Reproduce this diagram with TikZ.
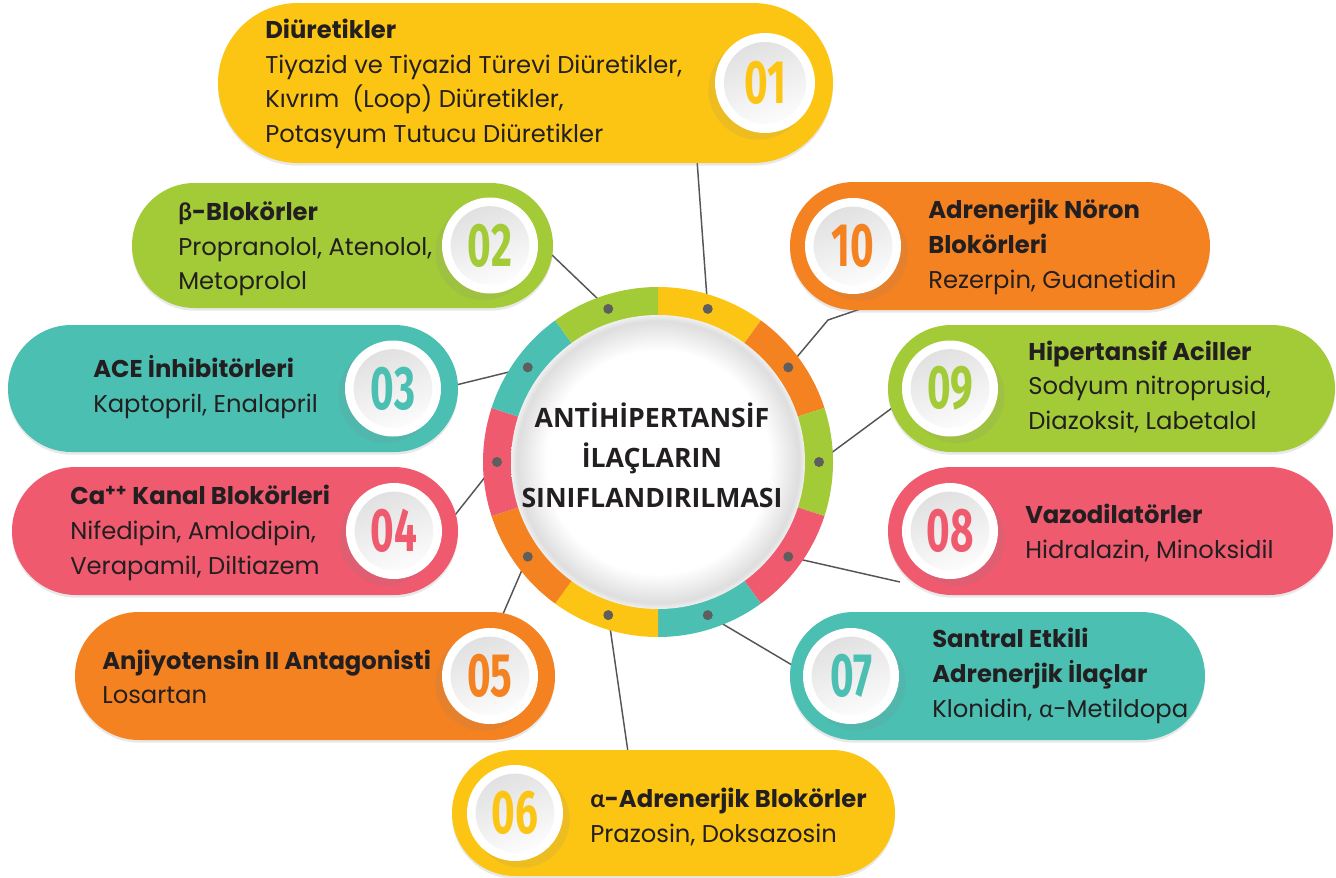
\documentclass[tikz,border=0pt]{standalone}
\usepackage{fontspec}
\setmainfont{Poppins}
\newfontfamily\grk{Lato}
\newfontfamily\numfont{Fira Sans}
\newfontfamily\titlefont{Open Sans}
\usetikzlibrary{shapes.misc,shadows,calc}
\definecolor{cy}{HTML}{FDC513}
\definecolor{cg}{HTML}{A3CB38}
\definecolor{ct}{HTML}{4BBFB2}
\definecolor{cp}{HTML}{EF5A6F}
\definecolor{co}{HTML}{F58220}
\definecolor{txtc}{HTML}{231F20}
\definecolor{linc}{HTML}{555555}
\definecolor{dotc}{HTML}{5E5E5E}
\pgfdeclarelayer{bg}
\pgfsetlayers{bg,main}
\pgfdeclareradialshading{cglow}{\pgfpoint{0bp}{0bp}}{color(0bp)=(white); color(19bp)=(white); color(24bp)=(black!13); color(25bp)=(black!6); color(50bp)=(black!6)}
\newcommand\numtxt[2]{\textcolor{#1}{\numfont\bfseries\fontsize{46pt}{46pt}\selectfont\scalebox{0.66}[1]{#2}}}
\tikzset{
  pill/.style n args={3}{rounded rectangle, inner sep=0pt, draw=none, fill=#1,
     minimum width=#2*0.75pt, minimum height=#3*0.75pt,
     drop shadow={shadow xshift=0pt, shadow yshift=-2pt, opacity=0.18}},
  numc/.style={circle, fill=white, inner sep=0pt, minimum size=#1,
     path picture={\shade[top color=black!13, bottom color=white, shading angle=20]
        (path picture bounding box.center) circle[radius=0.41*#1];}},
  shl/.style={drop shadow={shadow xshift=-5pt, shadow yshift=-5pt, opacity=0.13}},
  shr/.style={drop shadow={shadow xshift=5pt, shadow yshift=-5pt, opacity=0.13}},
  txtb/.style={anchor=west, align=left, inner sep=0pt, text=txtc,
     font=\fontsize{18.2pt}{26pt}\selectfont},
  dot/.style={circle, fill=dotc, inner sep=0pt, minimum size=7.5pt},
  conn/.style={draw=linc, line width=1.1pt},
  ttl/.style={align=center, text=txtc, inner sep=0pt,
     font=\titlefont\bfseries\fontsize{20pt}{30pt}\selectfont}
}
\begin{document}
\begin{tikzpicture}[x=0.75pt,y=-0.75pt]
\useasboundingbox (0,0) rectangle (1336,878);
\coordinate (ctr) at (658,462);
% ---- boxes
\node[pill={cy}{615}{160}] (b01) at (525.5,83) {};
\node[pill={cg}{421}{125}] (b02) at (342.5,245.5) {};
\node[pill={ct}{450}{127}] (b03) at (233,388.5) {};
\node[pill={cp}{446}{128}] (b04) at (235,531) {};
\node[pill={co}{480}{128}] (b05) at (315,676) {};
\node[pill={cy}{443}{126}] (b06) at (673.5,813) {};
\node[pill={ct}{415}{128}] (b07) at (997.5,676) {};
\node[pill={cp}{445}{128}] (b08) at (1110.5,531) {};
\node[pill={cg}{447}{127}] (b09) at (1111.5,388.5) {};
\node[pill={co}{420}{128}] (b10) at (1000,246) {};
% ---- number circles
\node[numc=75pt, shl] (n01) at (765,83) {\numtxt{cy}{01}};
\node[numc=72pt, shl] (n02) at (490,245.5) {\numtxt{cg}{02}};
\node[numc=72pt, shl] (n03) at (393,388.5) {\numtxt{ct}{03}};
\node[numc=72pt, shl] (n04) at (394,531) {\numtxt{cp}{04}};
\node[numc=72pt, shl] (n05) at (490,676) {\numtxt{co}{05}};
\node[numc=72pt, shr] (n06) at (515,813) {\numtxt{cy}{06}};
\node[numc=72pt, shr] (n07) at (851,676) {\numtxt{ct}{07}};
\node[numc=72pt, shr] (n08) at (950,531) {\numtxt{cp}{08}};
\node[numc=72pt, shr] (n09) at (950,388.5) {\numtxt{cg}{09}};
\node[numc=72pt, shr] (n10) at (853,246) {\numtxt{co}{10}};
% ---- texts
\node[txtb] (t01) at (265,84) {\textbf{Diüretikler}\\Tiyazid ve Tiyazid Türevi Diüretikler,\\Kıvrım\ \ (Loop) Diüretikler,\\Potasyum Tutucu Diüretikler};
\node[txtb] (t02) at (178,249) {\textbf{{\grk β}-Blokörler}\\Propranolol, Atenolol,\\Metoprolol};
\node[txtb] (t03) at (93,387) {\textbf{ACE İnhibitörleri}\\Kaptopril, Enalapril};
\node[txtb] (t04) at (70,533) {\textbf{Ca\textsuperscript{++} Kanal Blokörleri}\\Nifedipin, Amlodipin,\\Verapamil, Diltiazem};
\node[txtb] (t05) at (102,677) {\textbf{Anjiyotensin II Antagonisti}\\Losartan};
\node[txtb] (t06) at (590,817) {\textbf{{\grk α}-Adrenerjik Blokörler}\\Prazosin, Doksazosin};
\node[txtb] (t07) at (932,676) {\textbf{Santral Etkili}\\\textbf{Adrenerjik İlaçlar}\\Klonidin, {\grk α}-Metildopa};
\node[txtb] (t08) at (1025,533) {\textbf{Vazodilatörler}\\Hidralazin, Minoksidil};
\node[txtb] (t09) at (1028,387) {\textbf{Hipertansif Aciller}\\Sodyum nitroprusid,\\Diazoksit, Labetalol};
\node[txtb] (t10) at (928,247) {\textbf{Adrenerjik Nöron}\\\textbf{Blokörleri}\\Rezerpin, Guanetidin};
% ---- ring
\foreach \a/\c in {90/cy, 54/co, 18/cg, -18/cp, -54/ct, -90/cy, -126/co, -162/cp, 162/ct, 126/cg}{
  \fill[\c] (ctr) -- ++(-\a:175) arc[start angle=-\a, end angle=-\a+36, radius=175] -- cycle;
}
\node[circle, inner sep=0pt, minimum size=220.5pt, shade, shading=cglow] (core) at (ctr) {};
\node[ttl] (title) at (652,455) {ANTİHİPERTANSİF\\İLAÇLARIN\\SINIFLANDIRILMASI};
% ---- dots
\foreach \n/\v in {01/72, 10/36, 09/0, 08/-36, 07/-72, 06/-108, 05/-144, 04/180, 03/144, 02/108}{
  \node[dot] (d\n) at ($(ctr)+(-\v:161)$) {};
}
% ---- connector ends
\coordinate (e01) at (697,160);
\coordinate (k10) at (828,320);
\coordinate (e10) at (872,305);
\coordinate (e09) at (892,408);
\coordinate (e08) at (900,582);
\coordinate (e07) at (792,665);
\coordinate (e06) at (628,752);
\coordinate (e05) at (503,614);
\coordinate (e04) at (455,515);
\coordinate (e03) at (456,385);
\coordinate (e02) at (552,255);
\begin{pgfonlayer}{bg}
\draw[conn] (d01.center) -- (e01);
\draw[conn] (d10.center) -- (k10) -- (e10);
\draw[conn] (d09.center) -- (e09);
\draw[conn] (d08.center) -- (e08);
\draw[conn] (d07.center) -- (e07);
\draw[conn] (d06.center) -- (e06);
\draw[conn] (d05.center) -- (e05);
\draw[conn] (d04.center) -- (e04);
\draw[conn] (d03.center) -- (e03);
\draw[conn] (d02.center) -- (e02);
\end{pgfonlayer}
\end{tikzpicture}
\end{document}
